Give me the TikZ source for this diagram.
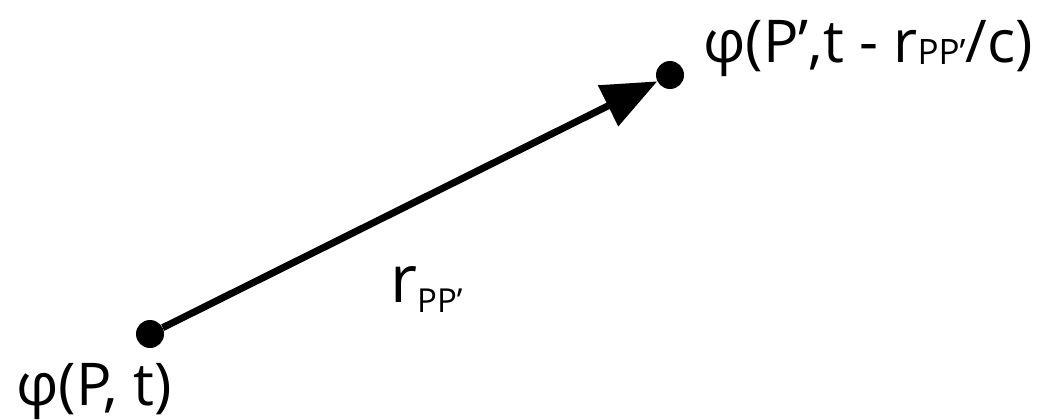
\documentclass[tikz,border=0pt]{standalone}
\usepackage{fontspec}
\setmainfont{Open Sans}
\usetikzlibrary{arrows.meta}
\tikzset{
  dot/.style={circle, fill=black, inner sep=0pt, minimum size=28pt},
  vec/.style={line width=7pt, -{Triangle[length=55pt,width=44pt]}},
  lbl/.style={anchor=base west, inner sep=0pt, font=\fontsize{59}{64}\selectfont},
}
\newcommand{\mysub}[2]{\raisebox{#1}{\fontsize{#2}{#2}\selectfont PP’}}
\begin{document}
\begin{tikzpicture}[x=1pt,y=-1pt]
\useasboundingbox (0,0) rectangle (1049,420);
\node[dot] (P) at (150,334) {};
\node[dot] (Q) at (670,75) {};
\draw[vec] (P) -- (Q);
\node[lbl] (lP) at (16,405) {φ(P, t)};
\node[lbl] (lQ) at (703,63) {φ(P’,t - r\mysub{-2pt}{35}/c)};
\node[lbl] (lr) at (390,302) {{\fontsize{66}{70}\selectfont r}\mysub{-10pt}{33}};
\end{tikzpicture}
\end{document}
